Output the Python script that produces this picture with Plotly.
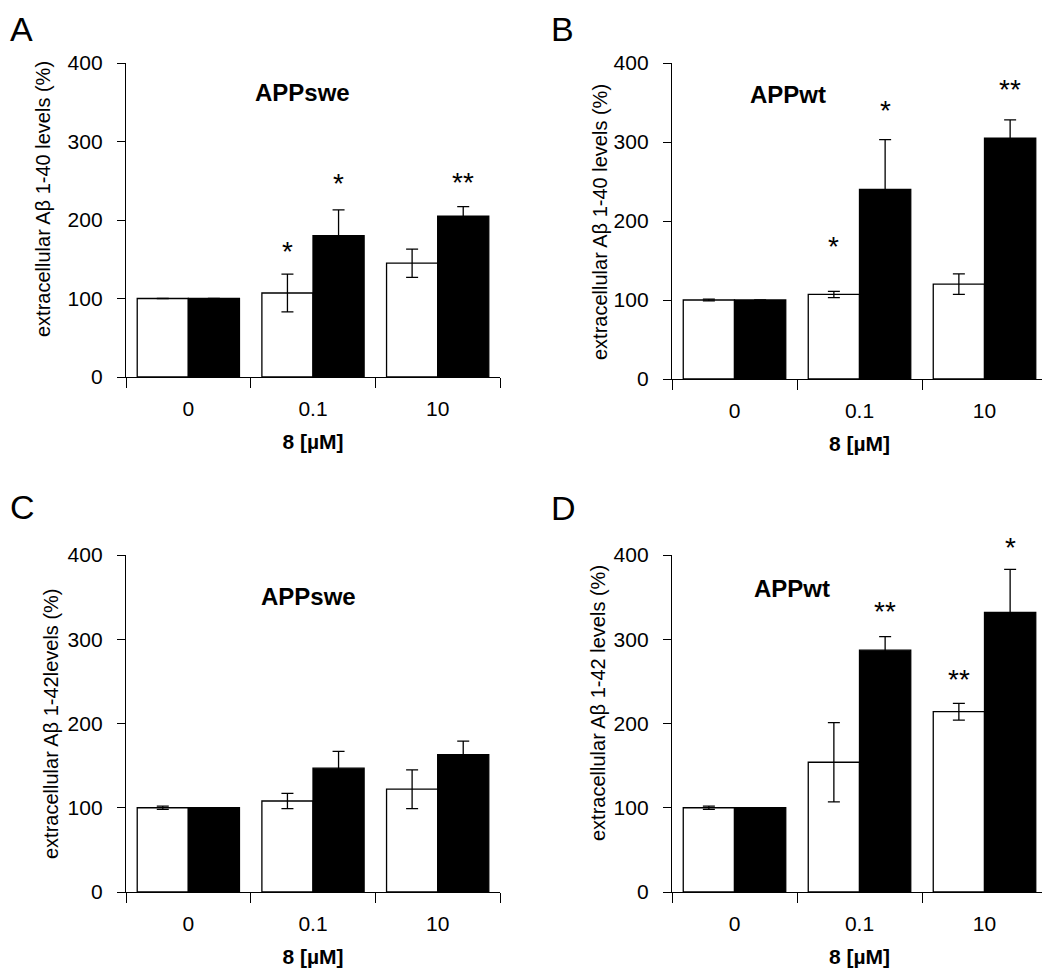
import plotly.graph_objects as go

W, H = 1050, 969
OFF = 8  # the page body adds an 8px margin; positions below are given in viewport pixels

categories = ["0", "0.1", "10"]

# Panel A: APPswe, Abeta 1-40
a_white = [100, 107, 145]
a_white_err = [0, 24, 18]
a_black = [100, 180, 205]
a_black_err = [0, 33, 12]

# Panel B: APPwt, Abeta 1-40
b_white = [100, 107, 120]
b_white_err = [1, 4, 13]
b_black = [100, 240, 305]
b_black_err = [0, 63, 23]

# Panel C: APPswe, Abeta 1-42
c_white = [100, 108, 122]
c_white_err = [2, 9, 23]
c_black = [100, 147, 163]
c_black_err = [0, 20, 16]

# Panel D: APPwt, Abeta 1-42
d_white = [100, 154, 214]
d_white_err = [2, 47, 10]
d_black = [100, 287, 332]
d_black_err = [0, 16, 51]

# significance marks: (category index, series 0=white 1=black, text, label height in data units)
a_stars = [(1, 0, "*", 164), (1, 1, "*", 250), (2, 1, "**", 252)]
b_stars = [(1, 0, "*", 171), (1, 1, "*", 344), (2, 1, "**", 370)]
c_stars = []
d_stars = [(1, 1, "**", 337), (2, 0, "**", 256), (2, 1, "*", 412)]

panel_letters = ["A", "B", "C", "D"]
panel_titles = ["APPswe", "APPwt", "APPswe", "APPwt"]
y_titles = [
    "extracellular Aβ 1-40 levels (%)",
    "extracellular Aβ 1-40 levels (%)",
    "extracellular Aβ 1-42levels (%)",
    "extracellular Aβ 1-42 levels (%)",
]
x_title = "8 [µM]"
y_ticks = [0, 100, 200, 300, 400]
y_max = 400

panels = [
    (a_white, a_white_err, a_black, a_black_err, a_stars),
    (b_white, b_white_err, b_black, b_black_err, b_stars),
    (c_white, c_white_err, c_black, c_black_err, c_stars),
    (d_white, d_white_err, d_black, d_black_err, d_stars),
]

# plot areas in viewport pixels: (left, right, top, bottom)
boxes = [
    (126, 500, 63, 377),
    (672, 1047, 63, 379),
    (126, 500, 555, 892),
    (672, 1047, 555, 892),
]
# panel letters: (x, y, xanchor, yanchor) in viewport pixels
letter_pos = [(8, 8, "left", "top"), (562, 8, "center", "top"),
              (8, 507, "left", "middle"), (563, 508, "center", "middle")]
ytitle_pos = [(43, 199), (600, 222), (51, 724), (598, 703)]
ptitle_pos = [(0.473, 0.905), (0.31, 0.9), (0.487, 0.878), (0.32, 0.9)]

FONT = "Liberation Sans, Arial, sans-serif"
bargap = 0.18
half = (1 - bargap) / 4  # center offset of each bar in a pair


def fx(px):
    return (px - OFF) / W


def fy(py):
    return (H - (py - OFF)) / H


fig = go.Figure()
layout = dict(
    template="none",
    width=W, height=H, margin=dict(l=0, r=0, t=0, b=0, autoexpand=False),
    paper_bgcolor="white", plot_bgcolor="white",
    barmode="group", bargap=bargap, bargroupgap=0,
    showlegend=False, font=dict(family=FONT, color="black"),
)
annotations = []

for i, (wv, we, bv, be, stars) in enumerate(panels):
    n = i + 1
    xa = "x" if n == 1 else f"x{n}"
    ya = "y" if n == 1 else f"y{n}"
    l, r, t, b = boxes[i]
    for vals, errs, col in ((wv, we, "white"), (bv, be, "black")):
        fig.add_trace(go.Bar(
            x=categories, y=vals, xaxis=xa, yaxis=ya,
            marker=dict(color=col, line=dict(color="black", width=1.3)),
            error_y=dict(type="data", array=errs, visible=True,
                         color="black", thickness=1.3, width=6),
        ))
    layout["xaxis" if n == 1 else f"xaxis{n}"] = dict(
        domain=[fx(l), min(fx(r), 1.0)], anchor=ya, type="category", automargin=False,
        range=[-0.5, 2.5], showline=True, linecolor="black", linewidth=1.3,
        ticks="outside", tickson="boundaries", ticklen=10, tickwidth=1.3,
        tickcolor="black", showgrid=False, zeroline=False,
        tickfont=dict(size=21, family=FONT, color="black"),
        ticklabelstandoff=13,
        title=dict(text=x_title, font=dict(size=21, family=FONT, color="black", weight="bold"),
                   standoff=14),
    )
    layout["yaxis" if n == 1 else f"yaxis{n}"] = dict(
        domain=[fy(b), fy(t)], anchor=xa, automargin=False,
        range=[0, y_max], tickvals=y_ticks, showline=True, linecolor="black",
        linewidth=1.3, ticks="outside", ticklen=8, tickwidth=1.3, tickcolor="black",
        showgrid=False, zeroline=False,
        tickfont=dict(size=21, family=FONT, color="black"),
        ticklabelstandoff=10,
    )
    for (ci, s, txt, yv) in stars:
        annotations.append(dict(
            x=ci + (-half if s == 0 else half), y=yv / y_max,
            xref=xa, yref=f"{ya} domain", text=txt, showarrow=False,
            font=dict(size=28, family=FONT, color="black"),
            xanchor="center", yanchor="middle", yshift=-3,
        ))
    px, py = ptitle_pos[i]
    annotations.append(dict(
        x=px, y=py, xref=f"{xa} domain", yref=f"{ya} domain", text=panel_titles[i],
        showarrow=False, font=dict(size=24, family=FONT, color="black", weight="bold"),
        xanchor="center", yanchor="middle",
    ))
    lx, ly, lxa, lya = letter_pos[i]
    annotations.append(dict(
        x=max(fx(lx), 0.0), y=min(fy(ly), 1.0), xref="paper", yref="paper",
        text=panel_letters[i], showarrow=False,
        font=dict(size=34, family=FONT, color="black"),
        xanchor=lxa, yanchor=lya,
    ))
    tx, ty = ytitle_pos[i]
    annotations.append(dict(
        x=fx(tx), y=fy(ty), xref="paper", yref="paper", text=y_titles[i],
        showarrow=False, textangle=-90, font=dict(size=20, family=FONT, color="black"),
        xanchor="center", yanchor="middle",
    ))

layout["annotations"] = annotations
fig.update_layout(**layout)
fig.write_html("out.html")
